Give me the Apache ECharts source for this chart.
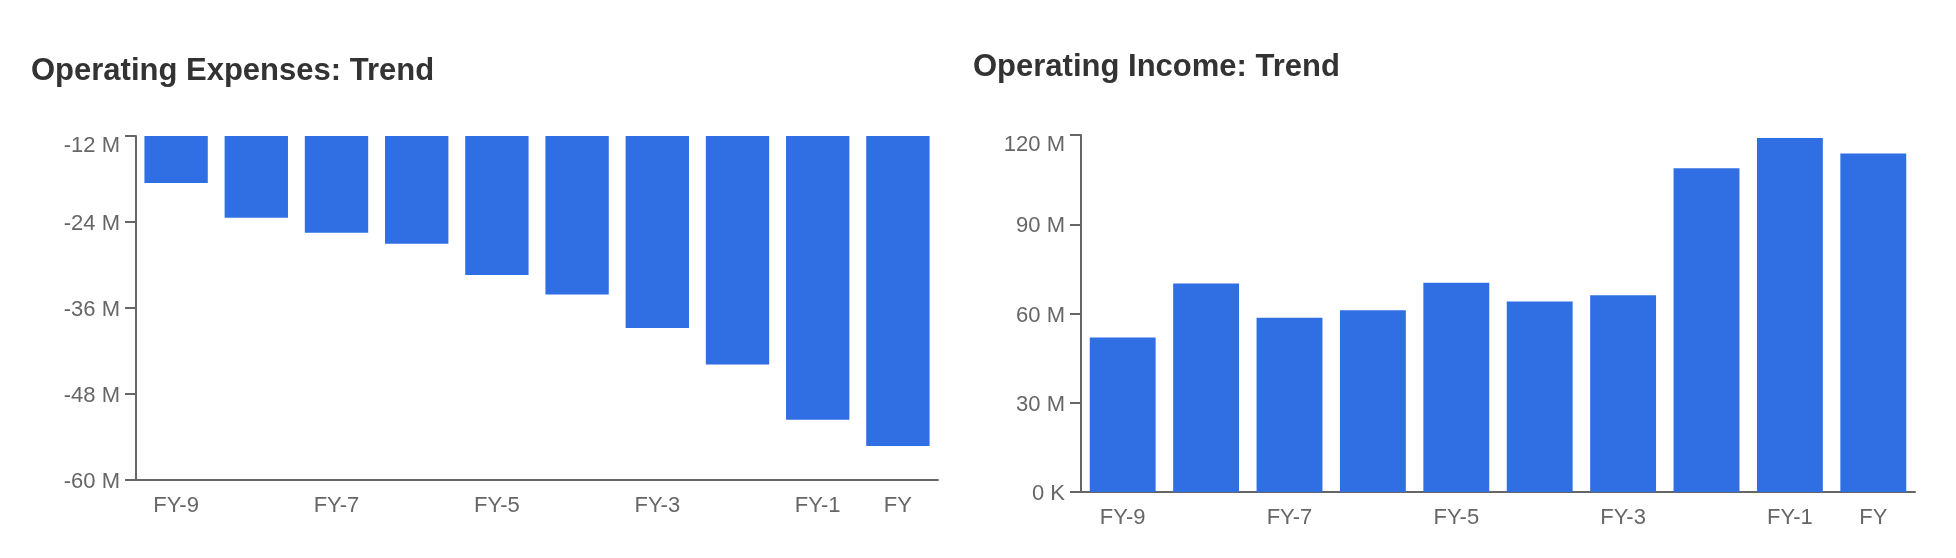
<!DOCTYPE html>
<html>
<head>
<meta charset="utf-8">
<script src="https://cdn.jsdelivr.net/npm/echarts@6/dist/echarts.min.js"></script>
<style>
html,body{margin:0;padding:0;background:#fff;}
#main{width:1956px;height:558px;}
</style>
</head>
<body>
<div id="main"></div>
<script>
const categories = ['FY-9','FY-8','FY-7','FY-6','FY-5','FY-4','FY-3','FY-2','FY-1','FY'];
const opexValues = [-18.55, -23.4, -25.5, -27.05, -31.4, -34.1, -38.8, -43.9, -51.6, -55.25];
const incomeValues = [51.9, 70.1, 58.6, 61.1, 70.3, 64.0, 66.1, 108.8, 119.0, 113.8];
const titles = ['Operating Expenses: Trend', 'Operating Income: Trend'];

const FONT = '"Liberation Sans", Arial, Helvetica, sans-serif';
const BAR = '#306fe3';
const AXIS = '#666666';
const LABEL = '#666666';
const LFS = 22;

function xAxisCfg(gridIndex){
  return {
    type:'category', gridIndex, data:categories,
    axisLine:{show:true, lineStyle:{color:AXIS, width:2}},
    axisTick:{show:false},
    axisLabel:{
      interval:(i)=> i%2===0 || i===categories.length-1,
      color:LABEL, fontSize:LFS, fontFamily:FONT, margin:15
    },
    splitLine:{show:false}
  };
}

const richStyles = {
  top:{color:LABEL, fontSize:LFS, fontFamily:FONT, padding:[20,0,0,0]},
  n:{color:LABEL, fontSize:LFS, fontFamily:FONT, padding:[4,0,0,0]}
};

function yAxisCfg(gridIndex, min, max, interval, fmt){
  return {
    type:'value', gridIndex, min, max, interval,
    axisLine:{show:true, lineStyle:{color:AXIS, width:2}},
    axisTick:{show:true, length:11, lineStyle:{color:AXIS, width:2}},
    axisLabel:{
      color:LABEL, fontSize:LFS, fontFamily:FONT, margin:16,
      formatter:(v)=> (v === max ? '{top|' : '{n|') + fmt(v) + '}',
      rich:richStyles
    },
    splitLine:{show:false}
  };
}

const chart = echarts.init(document.getElementById('main'));
chart.setOption({
  animation:false,
  backgroundColor:'#fff',
  title:[
    {text:titles[0], left:31, top:56, padding:0, textStyle:{fontSize:31, fontWeight:'bold', color:'#333', fontFamily:FONT}},
    {text:titles[1], left:973, top:52, padding:0, textStyle:{fontSize:31, fontWeight:'bold', color:'#333', fontFamily:FONT}}
  ],
  grid:[
    {left:136, top:136, width:802, height:344},
    {left:1081, top:135, width:834, height:357}
  ],
  xAxis:[xAxisCfg(0), xAxisCfg(1)],
  yAxis:[
    yAxisCfg(0, -60, -12, 12, (v)=> v + ' M'),
    yAxisCfg(1, 0, 120, 30, (v)=> v === 0 ? '0 K' : v + ' M')
  ],
  series:[
    {type:'bar', xAxisIndex:0, yAxisIndex:0, data:opexValues, barCategoryGap:'21%',
      itemStyle:{color:BAR}},
    {type:'bar', xAxisIndex:1, yAxisIndex:1, data:incomeValues, barCategoryGap:'21%',
      itemStyle:{color:BAR}}
  ]
});
</script>
</body>
</html>
